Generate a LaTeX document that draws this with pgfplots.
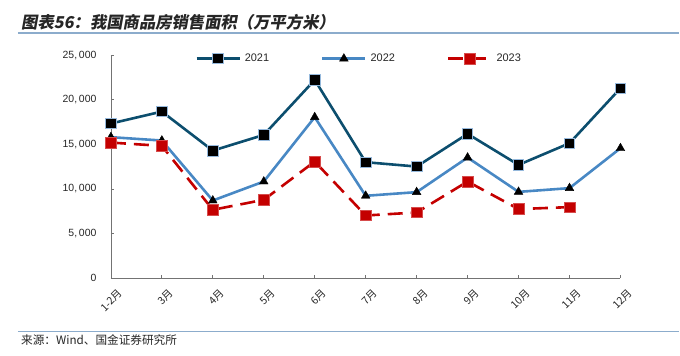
\documentclass[border=0pt]{standalone}
\usepackage{pgfplots}
\pgfplotsset{compat=1.18}
\usepackage{fontspec}
\setmainfont{Liberation Sans}
\newfontfamily\cjk{Noto Sans CJK SC}
\newfontfamily\cjktitle[FakeSlant=0.18]{Noto Sans CJK SC}
\definecolor{c21}{RGB}{12,78,110}
\definecolor{c22}{RGB}{72,136,196}
\definecolor{c23}{RGB}{196,0,0}
\definecolor{edge}{RGB}{150,185,220}
\definecolor{rule}{RGB}{140,172,204}
\begin{document}
\begin{tikzpicture}
\path (0,0) rectangle (680bp,356bp);
\draw[rule, line width=1.2bp] (18bp,323bp) -- (680bp,323bp);
\draw[rule, line width=1.2bp] (18bp,24.5bp) -- (680bp,24.5bp);
\node[anchor=west, inner sep=0pt, text=black!85] at (21bp,333.5bp) {\fontsize{16.4}{18}\selectfont\cjktitle\bfseries 图表56：我国商品房销售面积（万平方米）};
\node[anchor=west, inner sep=0pt, text=black!85] at (21bp,15.5bp) {\fontsize{11.7}{13}\selectfont\cjk 来源：Wind、国金证券研究所};
\begin{axis}[
  at={(111bp,77.7bp)}, anchor=south west,
  scale only axis, width=510bp, height=223bp,
  xmin=0, xmax=10, ymin=0, ymax=25000,
  axis x line*=bottom, axis y line*=left,
  axis line style={black!55, line width=0.8bp},
  tick style={black!55, line width=0.8bp},
  tick align=inside, major tick length=3bp,
  xtick={0,...,10},
  xticklabels={1-2月,3月,4月,5月,6月,7月,8月,9月,10月,11月,12月},
  xticklabel style={rotate=45, anchor=east, inner sep=0pt, xshift=-2.5bp, yshift=-16.5bp, font=\cjk\fontsize{10.5}{11}\selectfont, text=black!85},
  ytick={0,5000,10000,15000,20000,25000},
  yticklabel style={font=\fontsize{10.5}{12}\selectfont, text=black!85, xshift=-11bp},
  /pgf/number format/assume math mode=true,
  /pgf/number format/1000 sep={,\,},
  scaled y ticks=false,
  clip=false,
  legend columns=3,
  legend style={draw=none, fill=none, at={(0.487,0.985)}, anchor=center,
    font=\fontsize{11}{12}\selectfont, text=black!85,
    /tikz/every even column/.append style={column sep=50bp},
    /tikz/every odd column/.append style={column sep=2bp}},
  legend image code/.code={\draw[mark repeat=2,mark phase=2,#1] plot coordinates {(0bp,0bp)(21.5bp,0bp)(43bp,0bp)};},
]
\addplot[c21, line width=2.6bp, mark=square*, mark size=5.3bp,
  mark options={solid, fill=black, draw=edge, line width=0.8bp}]
  coordinates {(0,17340)(1,18680)(2,14300)(3,16060)(4,22230)(5,13000)(6,12510)(7,16180)(8,12700)(9,15130)(10,21300)};
\addlegendentry{2021}
\addplot[c22, line width=2.6bp, mark=triangle*, mark size=5bp,
  mark options={solid, fill=black, draw=black, line width=0.4bp}]
  coordinates {(0,15810)(1,15430)(2,8700)(3,10830)(4,18050)(5,9230)(6,9640)(7,13520)(8,9670)(9,10090)(10,14570)};
\addlegendentry{2022}
\addplot[c23, line width=2.6bp, dash pattern=on 15bp off 8bp, mark=square*, mark size=5.3bp,
  mark options={solid, fill=c23, draw=c23!70, line width=0.6bp}]
  coordinates {(0,15200)(1,14830)(2,7660)(3,8780)(4,13070)(5,7020)(6,7360)(7,10830)(8,7740)(9,7960)};
\addlegendentry{2023}
\end{axis}
\end{tikzpicture}
\end{document}
